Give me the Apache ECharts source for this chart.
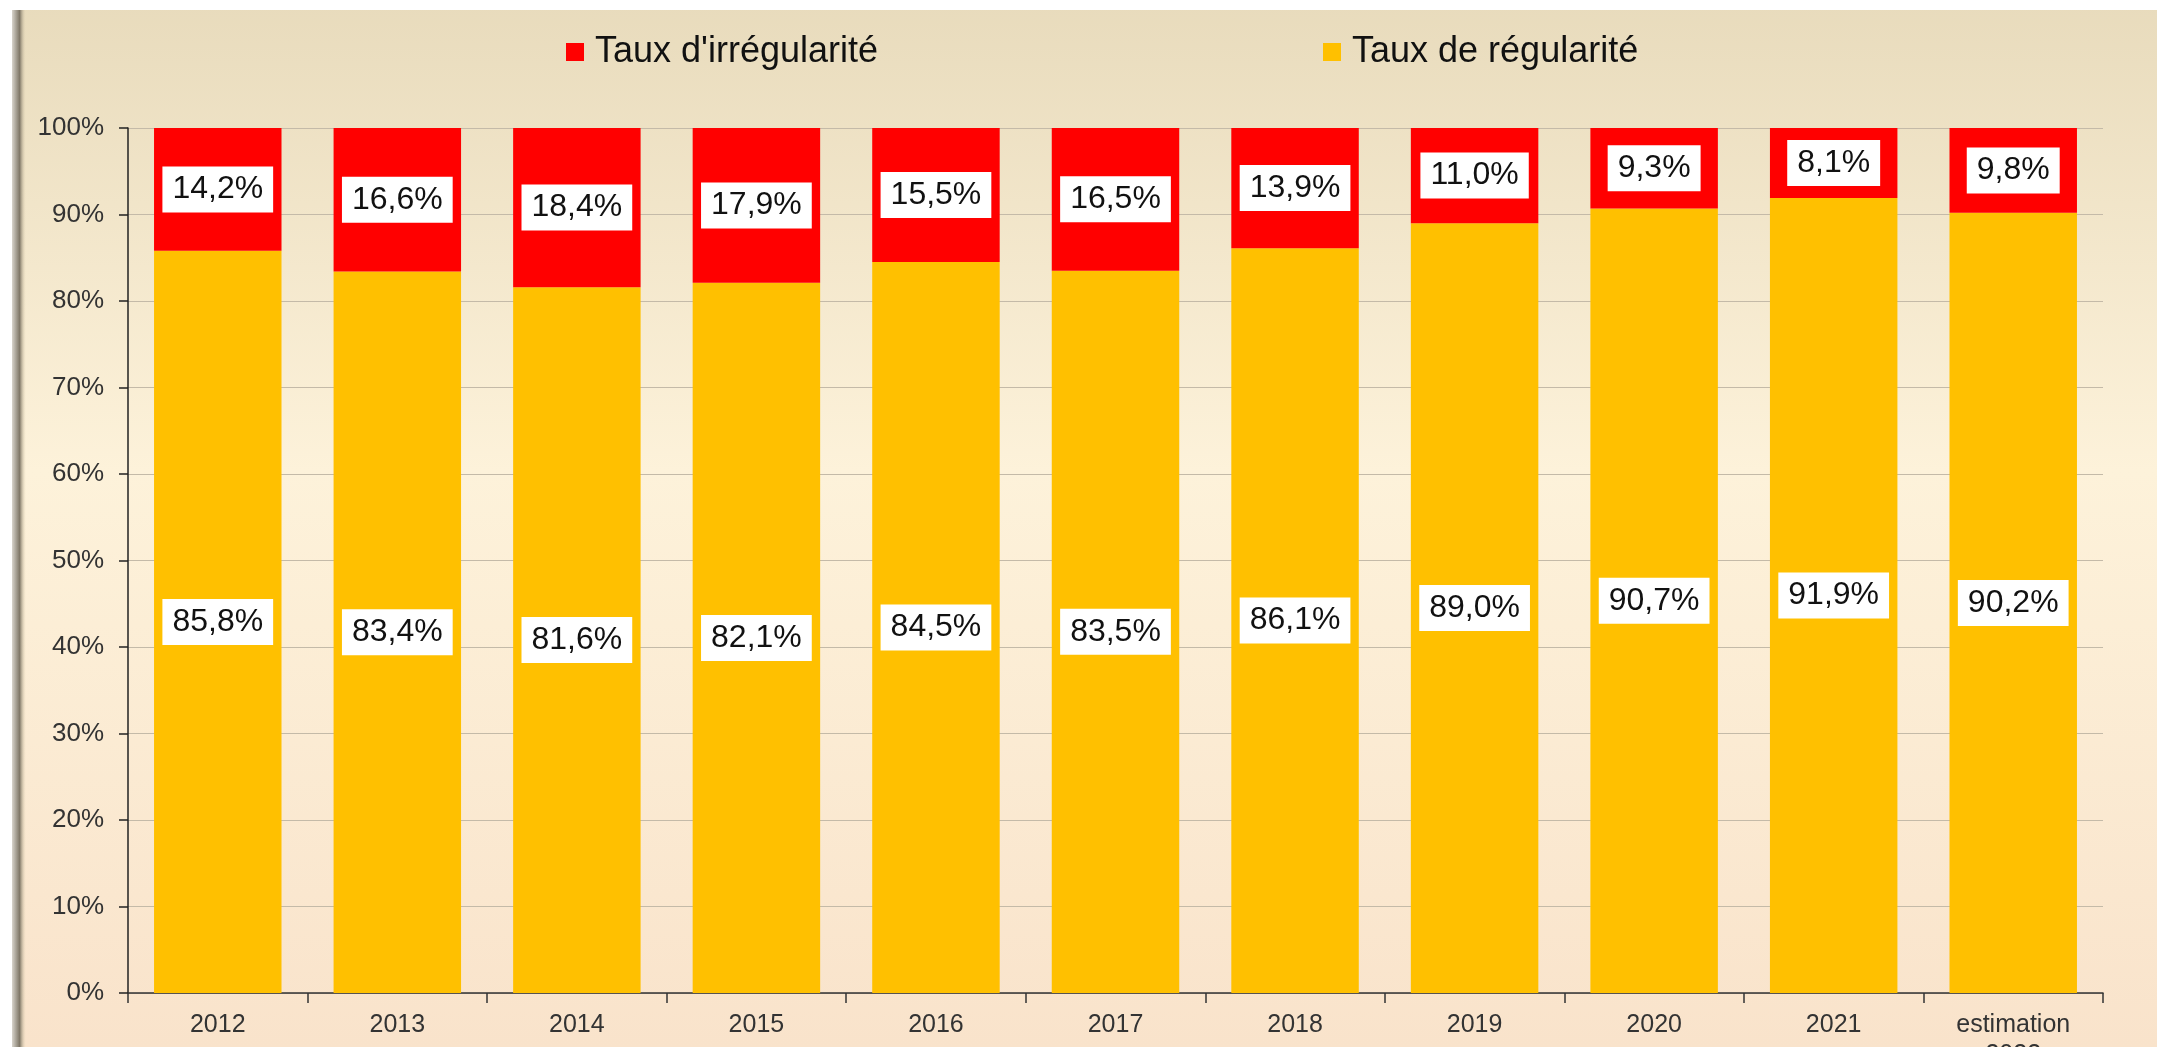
<!DOCTYPE html>
<html>
<head>
<meta charset="utf-8">
<script src="https://cdn.jsdelivr.net/npm/echarts@6/dist/echarts.min.js"></script>
<style>
  html, body { margin: 0; padding: 0; background: #fff; }
  #main { width: 2157px; height: 1047px; }
</style>
</head>
<body>
<div id="main"></div>
<script>
// données
var annees = ['2012', '2013', '2014', '2015', '2016', '2017', '2018', '2019', '2020', '2021', 'estimation\n2022'];
var tauxIrregularite = [14.2, 16.6, 18.4, 17.9, 15.5, 16.5, 13.9, 11.0, 9.3, 8.1, 9.8];
var tauxRegularite = [85.8, 83.4, 81.6, 82.1, 84.5, 83.5, 86.1, 89.0, 90.7, 91.9, 90.2];
var yTicks = [0, 10, 20, 30, 40, 50, 60, 70, 80, 90, 100];

var police = '"Liberation Sans", Arial, sans-serif';

function pourcent(v) {
  return v.toFixed(1).replace('.', ',') + '%';
}

var etiquette = {
  show: true,
  position: 'inside',
  formatter: function (p) { return pourcent(p.value); },
  backgroundColor: '#fff',
  color: '#111',
  fontFamily: police,
  fontSize: 32,
  lineHeight: 36,
  padding: [5, 10]
};

var myChart = echarts.init(document.getElementById('main'));

var option = {
  animation: false,
  backgroundColor: {
    type: 'linear', x: 0, y: 0, x2: 0, y2: 1,
    colorStops: [
      { offset: 0, color: '#e8dbbc' },
      { offset: 0.45, color: '#fdf2da' },
      { offset: 1, color: '#f9e3cb' }
    ]
  },
  // cadre : marge blanche + ombre à gauche
  graphic: [
    { type: 'rect', shape: { x: 0, y: 0, width: 2157, height: 10 }, style: { fill: '#fff' }, silent: true },
    { type: 'rect', shape: { x: 0, y: 0, width: 12, height: 1047 }, style: { fill: '#fff' }, silent: true },
    {
      type: 'rect',
      shape: { x: 12, y: 10, width: 14, height: 1037 },
      style: {
        fill: {
          type: 'linear', x: 0, y: 0, x2: 1, y2: 0,
          colorStops: [
            { offset: 0, color: '#d8d4cc' },
            { offset: 0.55, color: '#7e7666' },
            { offset: 1, color: 'rgba(232,219,188,0)' }
          ]
        }
      },
      silent: true
    }
  ],
  legend: {
    top: 29,
    left: 561,
    itemWidth: 18,
    itemHeight: 18,
    itemGap: 445,
    icon: 'rect',
    textStyle: {
      fontFamily: police,
      fontSize: 36,
      color: '#111',
      padding: [0, 0, 0, 6]
    },
    data: ["Taux d'irrégularité", 'Taux de régularité']
  },
  grid: {
    left: 128,
    right: 54,
    top: 128,
    bottom: 54,
    containLabel: false,
    outerBoundsMode: 'none'
  },
  xAxis: {
    type: 'category',
    data: annees,
    axisLine: { lineStyle: { color: '#333', width: 1.5 } },
    axisTick: { show: true, length: 10, lineStyle: { color: '#333', width: 1.5 } },
    axisLabel: {
      fontFamily: police,
      fontSize: 25,
      lineHeight: 30,
      color: '#333',
      margin: 17,
      interval: 0
    }
  },
  yAxis: {
    type: 'value',
    min: yTicks[0],
    max: yTicks[yTicks.length - 1],
    interval: 10,
    axisLine: { show: true, lineStyle: { color: '#222', width: 1.5 } },
    axisTick: { show: true, length: 9, lineStyle: { color: '#222', width: 1.5 } },
    axisLabel: {
      fontFamily: police,
      fontSize: 26,
      color: '#333',
      margin: 24,
      formatter: '{value}%'
    },
    splitLine: { lineStyle: { color: '#c4baa8', width: 1.2 } }
  },
  series: [
    {
      name: 'Taux de régularité',
      type: 'bar',
      stack: 'total',
      barCategoryGap: '29%',
      itemStyle: { color: '#ffc000' },
      label: etiquette,
      data: tauxRegularite
    },
    {
      name: "Taux d'irrégularité",
      type: 'bar',
      stack: 'total',
      barCategoryGap: '29%',
      itemStyle: { color: '#ff0000' },
      label: etiquette,
      data: tauxIrregularite
    }
  ]
};

myChart.setOption(option, true);
</script>
</body>
</html>
